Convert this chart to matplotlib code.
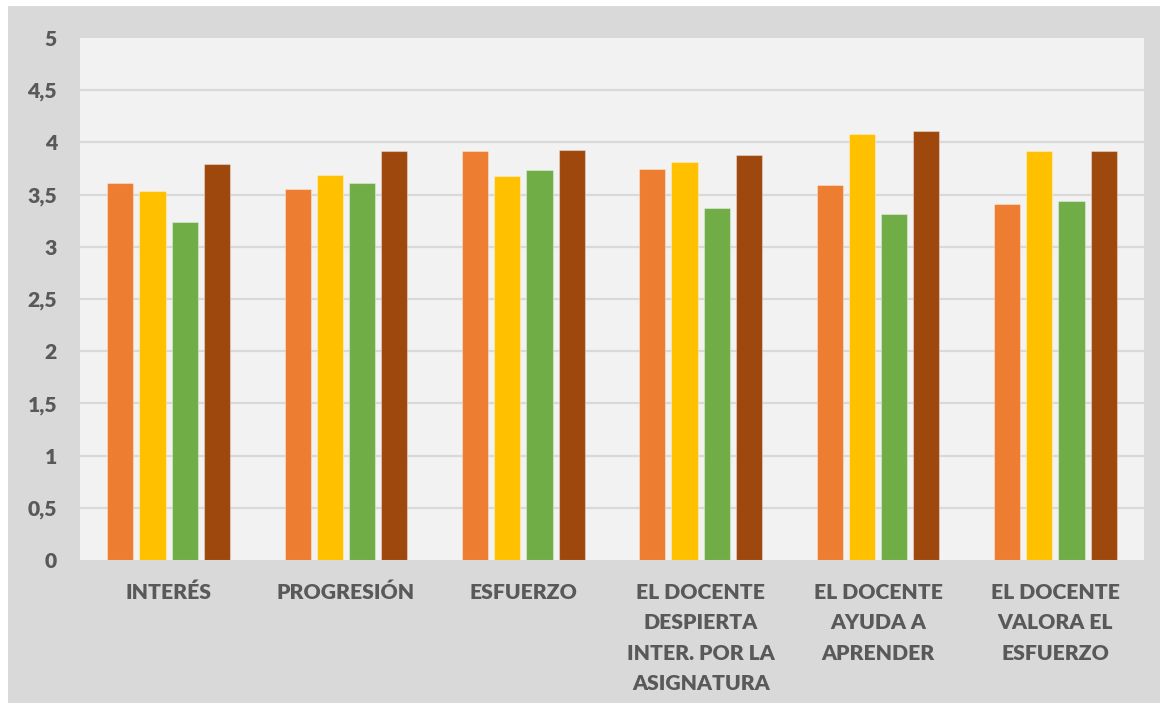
import numpy as np
import matplotlib
matplotlib.use("Agg")
import matplotlib.pyplot as plt
from matplotlib.patches import Rectangle

categories = [
    "INTERÉS",
    "PROGRESIÓN",
    "ESFUERZO",
    "EL DOCENTE\nDESPIERTA\nINTER. POR LA\nASIGNATURA",
    "EL DOCENTE\nAYUDA A\nAPRENDER",
    "EL DOCENTE\nVALORA EL\nESFUERZO",
]
serie_1 = [3.61, 3.55, 3.92, 3.75, 3.59, 3.41]
serie_2 = [3.53, 3.69, 3.68, 3.81, 4.08, 3.92]
serie_3 = [3.24, 3.61, 3.74, 3.37, 3.31, 3.44]
serie_4 = [3.79, 3.92, 3.93, 3.88, 4.11, 3.92]
yticks = [0, 0.5, 1, 1.5, 2, 2.5, 3, 3.5, 4, 4.5, 5]
ytick_labels = ["0", "0,5", "1", "1,5", "2", "2,5", "3", "3,5", "4", "4,5", "5"]

series = [serie_1, serie_2, serie_3, serie_4]
colors = ["#ED7D31", "#FFC000", "#70AD47", "#9E480E"]

plt.rcParams["font.family"] = ["Lato", "DejaVu Sans"]

W, H = 1160, 709
fig = plt.figure(figsize=(W / 100, H / 100), dpi=100, facecolor="white")
# fondo gris del área del gráfico
fig.add_artist(Rectangle((8 / W, 6 / H), 1152 / W, 697 / H,
                         transform=fig.transFigure, facecolor="#D9D9D9",
                         edgecolor="none", zorder=-10))

ax = fig.add_axes([80 / W, (H - 560) / H, (1144 - 80) / W, (560 - 38) / H])
ax.set_facecolor("#F2F2F2")

x = np.arange(len(categories))
pitch = 0.182
width = 0.147
for i, (vals, c) in enumerate(zip(series, colors)):
    ax.bar(x + (i - 1.5) * pitch, vals, width, color=c,
           edgecolor=(1, 1, 1, 0.35), linewidth=0.8, zorder=3)

ax.set_xlim(-0.5, len(categories) - 0.5)
ax.set_ylim(0, 5)
ax.set_yticks(yticks)
ax.set_yticklabels(ytick_labels)
ax.set_xticks(x)
ax.set_xticklabels(categories, linespacing=1.72)
for t in ax.get_xticklabels() + ax.get_yticklabels():
    t.set_fontsize(15.2)
    t.set_fontweight("heavy")
    t.set_color("#595959")

for y in yticks[1:-1]:
    ax.axhline(y, color="#D9D9D9", linewidth=1.6, zorder=1)

ax.tick_params(axis="both", length=0)
ax.tick_params(axis="x", pad=16.5)
ax.tick_params(axis="y", pad=16.5)
for s in ax.spines.values():
    s.set_visible(False)

fig.savefig("out.png", dpi=100, facecolor="white")
